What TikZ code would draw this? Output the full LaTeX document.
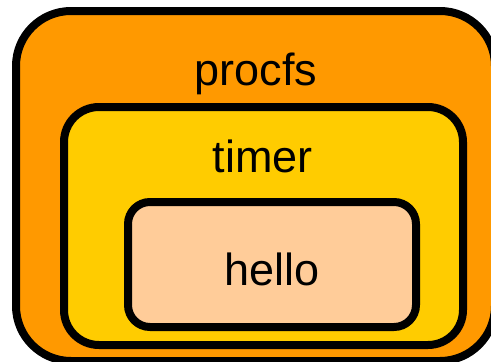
\documentclass[tikz,border=0pt]{standalone}
\usepackage{fontspec}
\setmainfont{Liberation Sans}
\definecolor{procorange}{HTML}{FF9900}
\definecolor{timeryellow}{HTML}{FFCC00}
\definecolor{hellopeach}{HTML}{FFCC99}
\begin{document}
\begin{tikzpicture}[x=1pt,y=1pt,
  box/.style={draw=black, line width=8pt, inner sep=0pt, outer sep=0pt, rectangle},
  lbl/.style={font=\fontsize{45}{50}\selectfont, anchor=base, inner sep=0pt}]
\useasboundingbox (0,0) rectangle (491,-362);
\clip (0,0) rectangle (491,-362);
\node[box, fill=procorange, rounded corners=55pt, minimum width=479pt, minimum height=350pt] (procfsbox) at (255.5,-186) {};
\node[box, fill=timeryellow, rounded corners=35pt, minimum width=399pt, minimum height=238pt] (timerbox) at (263.5,-226) {};
\node[box, fill=hellopeach, rounded corners=22pt, minimum width=288pt, minimum height=125pt] (hellobox) at (272,-264.5) {};
\node[lbl] (procfs) at (256,-85) {procfs};
\node[lbl] (timer) at (262.5,-172) {timer};
\node[lbl] (hello) at (272,-285) {hello};
\end{tikzpicture}
\end{document}
